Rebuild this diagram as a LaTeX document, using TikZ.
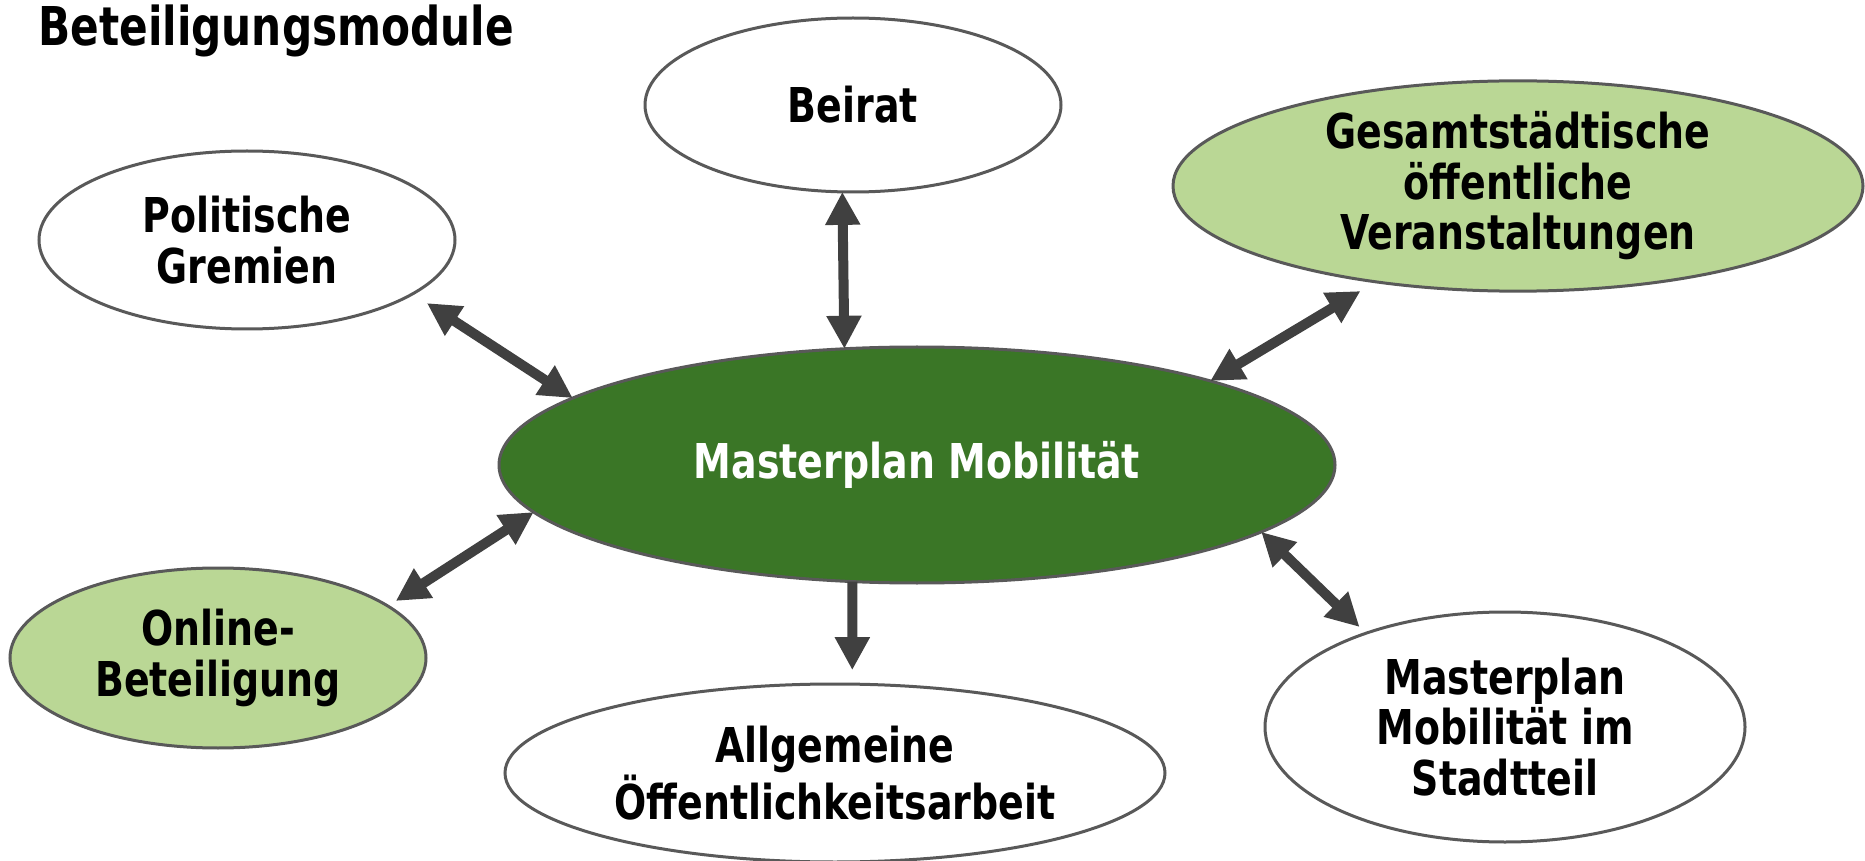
\documentclass[tikz,border=0pt]{standalone}
\usepackage{fontspec}
\setmainfont{DejaVu Sans}[FakeStretch=0.79]
\usetikzlibrary{arrows.meta,shapes.geometric}

\definecolor{darkgreen}{RGB}{58,118,38}
\definecolor{lightgreen}{RGB}{186,215,149}
\definecolor{rimgray}{RGB}{89,89,89}
\definecolor{arrowgray}{RGB}{64,64,64}

\begin{document}
\begin{tikzpicture}[x=0.5pt,y=-0.5pt,>={Triangle[length=16.5pt,width=16.5pt]},
                    font=\bfseries\fontsize{24}{25.3}\selectfont]

  \tikzstyle{module}=[ellipse,draw=rimgray,line width=1.5pt,fill=white,
                      inner sep=0pt,outer sep=0pt,align=center]
  \tikzstyle{link}=[draw=arrowgray,line width=5pt]

  \useasboundingbox (0,0) rectangle (1865,861);

  \node[anchor=base west,inner sep=0pt,font=\bfseries\fontsize{26.75}{28}\selectfont]
       (title) at (38,46) {Beteiligungsmodule};

  \node[module,fill=darkgreen,text=white,minimum width=418pt,minimum height=118pt]
       (MPM) at (917,465) {Masterplan Mobilität};

  \node[module,minimum width=208pt,minimum height=87pt]  (BEI) at (853,105) {Beirat};
  \node[module,minimum width=208pt,minimum height=89pt]  (PG)  at (247,240) {Politische \\ Gremien};
  \node[module,fill=lightgreen,minimum width=345pt,minimum height=105pt]
       (GES) at (1518,186) {Gesamtstädtische \\ öffentliche \\ Veranstaltungen};
  \node[module,fill=lightgreen,minimum width=208pt,minimum height=90pt]
       (OL)  at (218,658) {Online- \\ Beteiligung};
  \node[module,minimum width=330pt,minimum height=89pt]  (AG)  at (835,773) {Allgemeine \\ Öffentlichkeitsarbeit};
  \node[module,minimum width=240pt,minimum height=115pt] (ST)  at (1505,727) {Masterplan \\ Mobilität im \\ Stadtteil};

  \path
  (BEI.263) edge [link,<->]                     (MPM.122)
  (PG.342)  edge [link,<->,shorten <=8.5pt]     (MPM.169)
  (GES.214) edge [link,<->,shorten <=9pt]       (MPM.16)
  (OL.17)   edge [link,<->,shorten <=4.7pt]     (MPM.187)
  (MPM.241) edge [link,->,shorten >=7pt]        (AG.79)
  (MPM.349) edge [link,<->,shorten >=4.5pt]     (ST.146)
  ;
\end{tikzpicture}
\end{document}
